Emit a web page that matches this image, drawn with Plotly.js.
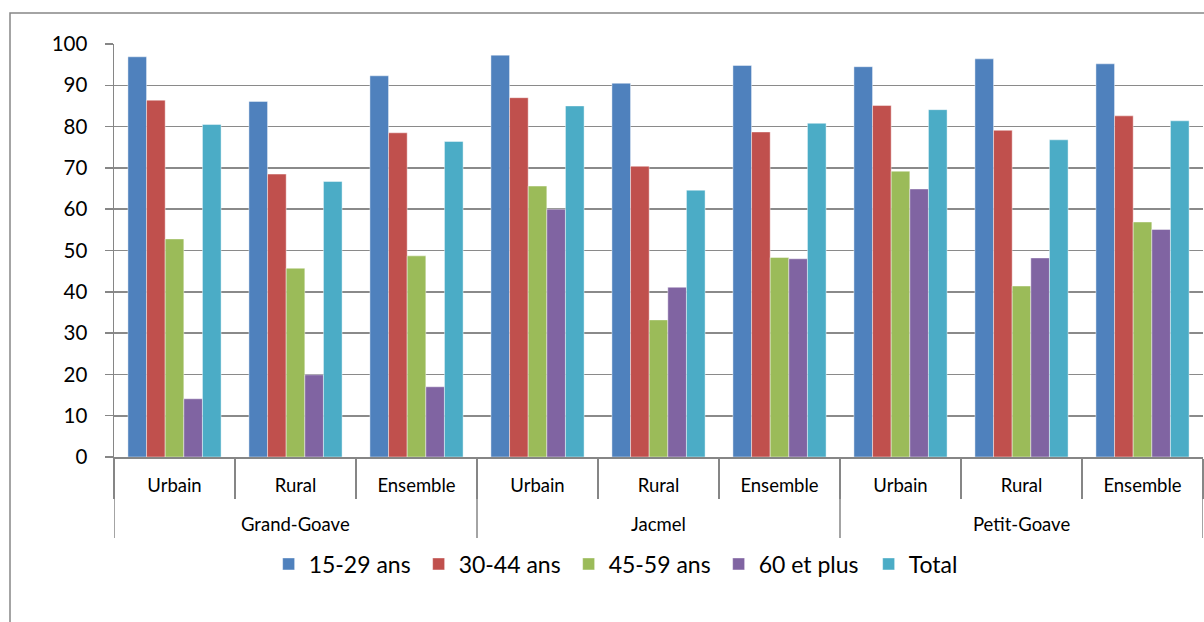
<!DOCTYPE html>
<html>
<head>
<meta charset="utf-8">
<script src="https://cdn.plot.ly/plotly-3.0.1.min.js"></script>
<style>html,body{margin:0;padding:0;background:#fff;}#chart{width:1204px;height:622px;}</style>
</head>
<body>
<div id="chart"></div>
<script>
const communes = ["Grand-Goave","Grand-Goave","Grand-Goave","Jacmel","Jacmel","Jacmel","Petit-Goave","Petit-Goave","Petit-Goave"];
const milieux = ["Urbain","Rural","Ensemble","Urbain","Rural","Ensemble","Urbain","Rural","Ensemble"];
const seriesNames = ["15-29 ans","30-44 ans","45-59 ans","60 et plus","Total"];
const age15_29 = [96.9, 86.1, 92.3, 97.3, 90.5, 94.8, 94.5, 96.4, 95.2];
const age30_44 = [86.4, 68.5, 78.5, 87.0, 70.4, 78.7, 85.1, 79.1, 82.6];
const age45_59 = [52.8, 45.7, 48.7, 65.6, 33.2, 48.3, 69.2, 41.4, 56.9];
const age60plus = [14.1, 19.9, 17.0, 60.0, 41.1, 48.0, 64.9, 48.2, 55.1];
const total = [80.5, 66.7, 76.4, 85.0, 64.6, 80.8, 84.1, 76.8, 81.4];
const yTicks = [0,10,20,30,40,50,60,70,80,90,100];

const colors = ["#4F81BD","#C0504D","#9BBB59","#8064A2","#4BACC6"];
const seriesValues = [age15_29, age30_44, age45_59, age60plus, total];
const FONT = "Lato, 'Open Sans', sans-serif";
const AXIS_GREY = "#868686";

// category positions on a linear axis
const xPos = milieux.map((_, i) => i);
const boundaries = milieux.map((_, i) => i - 0.5).concat([milieux.length - 0.5]);

// commune groups (contiguous runs)
const groups = [];
communes.forEach((c, i) => {
  const g = groups[groups.length - 1];
  if (g && g.name === c) { g.end = i; } else { groups.push({name: c, start: i, end: i}); }
});

const traces = seriesValues.map((vals, i) => ({
  type: "bar",
  name: seriesNames[i],
  x: xPos,
  y: vals,
  marker: {color: colors[i], line: {color: "rgba(255,255,255,0.55)", width: 0.8}},
  hoverinfo: "y+name"
}));

const PLOT_H = 622 - 44 - 165;
const annotations = groups.map(g => ({
  xref: "x", yref: "paper",
  x: (g.start + g.end) / 2, y: -67 / PLOT_H,
  text: g.name, showarrow: false,
  xanchor: "center", yanchor: "middle",
  font: {size: 18.5, family: FONT, color: "#000"}
}));

const dividerShapes = groups.map(g => g.start - 0.5).concat([groups[groups.length - 1].end + 0.5]).map(b => ({
  type: "line", xref: "x", yref: "paper",
  x0: b, x1: b, y0: 0, y1: -81 / PLOT_H,
  line: {color: AXIS_GREY, width: 1.5}
}));

const layout = {
  width: 1204, height: 622,
  margin: {l: 114, r: 1, t: 44, b: 165},
  paper_bgcolor: "#fff", plot_bgcolor: "#fff",
  barmode: "group",
  bargap: 0.23, bargroupgap: 0,
  font: {family: FONT, color: "#000"},
  showlegend: true,
  legend: {
    orientation: "h", x: 0.142, xanchor: "left", y: -0.207, yanchor: "top",
    font: {size: 23, family: FONT, color: "#000"},
    itemwidth: 30, traceorder: "normal",
    entrywidth: 105, entrywidthmode: "pixels"
  },
  xaxis: {
    type: "linear", range: [-0.5, milieux.length - 0.5],
    tickmode: "array", tickvals: xPos, ticktext: milieux,
    ticks: "", ticklabelstandoff: 11,
    minor: {tickmode: "array", tickvals: boundaries, ticks: "outside", ticklen: 40, tickcolor: AXIS_GREY, tickwidth: 1.5, showgrid: false},
    showline: true, linecolor: AXIS_GREY, linewidth: 1.5,
    tickfont: {size: 18.5, family: FONT, color: "#000"},
    showgrid: false, zeroline: false, fixedrange: true
  },
  yaxis: {
    range: [0, 100], tickvals: yTicks, ticktext: yTicks.map(String),
    showgrid: true, gridcolor: "#8a8a8a", gridwidth: 1.6,
    showline: true, linecolor: AXIS_GREY, linewidth: 1.5,
    ticks: "outside", ticklen: 8, tickcolor: AXIS_GREY, tickwidth: 1.5,
    ticklabelstandoff: 13,
    tickfont: {size: 20.5, family: FONT, color: "#000"},
    zeroline: false, fixedrange: true
  },
  annotations: annotations,
  shapes: dividerShapes.concat([{
    type: "rect", xref: "paper", yref: "paper",
    x0: -104/1089, x1: 1.02, y0: -0.45, y1: 1 + 31/PLOT_H,
    line: {color: AXIS_GREY, width: 1.5}, fillcolor: "rgba(0,0,0,0)", layer: "below"
  }])
};

Plotly.newPlot("chart", traces, layout, {displayModeBar: false, staticPlot: true});
</script>
</body>
</html>
